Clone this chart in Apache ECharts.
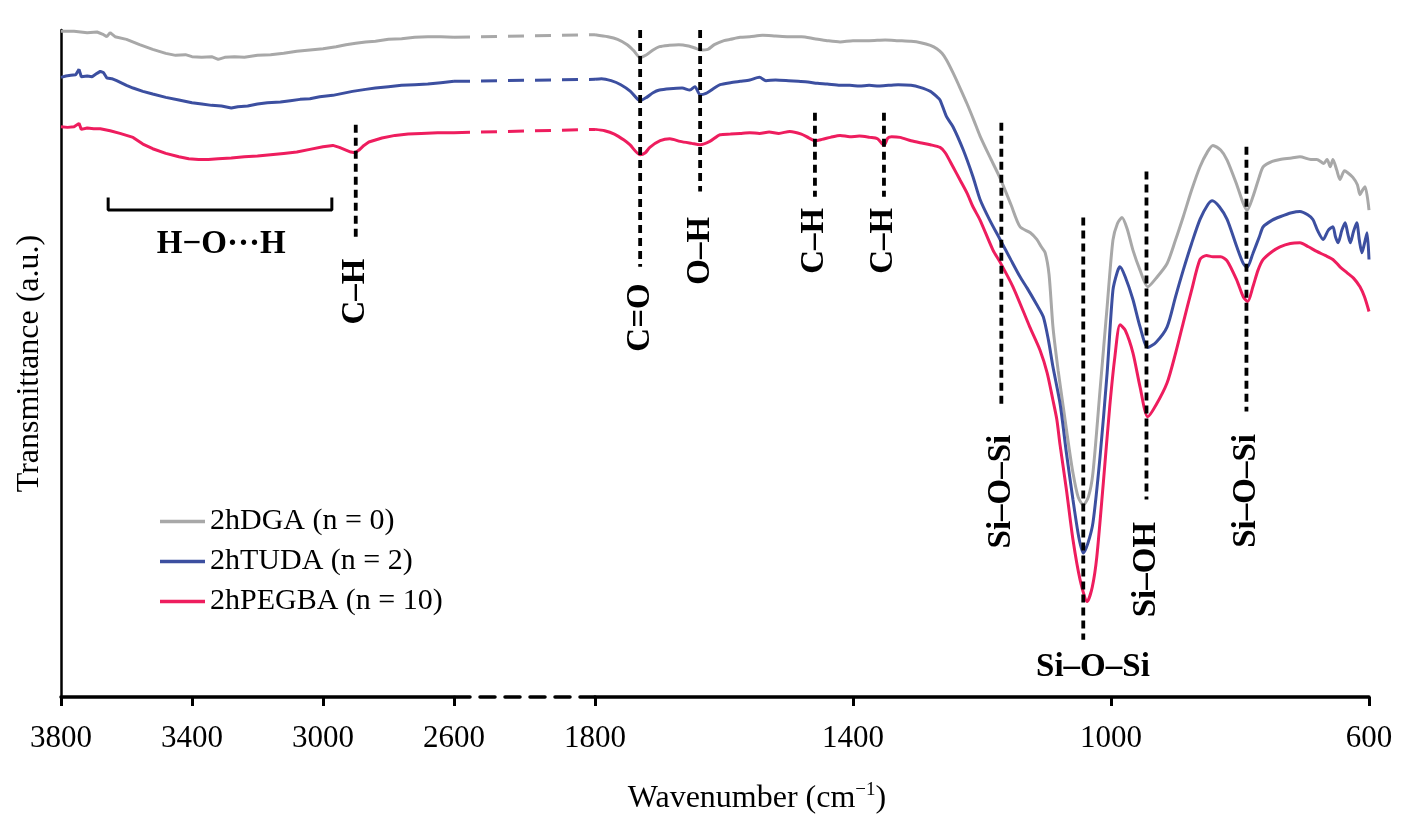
<!DOCTYPE html>
<html>
<head>
<meta charset="utf-8">
<title>FTIR</title>
<script src="https://cdn.jsdelivr.net/npm/echarts@6/dist/echarts.min.js"></script>
<style>
  html, body { margin: 0; padding: 0; background: #fff; }
  #chart { width: 1418px; height: 834px; }
</style>
</head>
<body>
<div id="chart"></div>
<script>
// series names
const names = ['2hDGA (n = 0)', '2hTUDA (n = 2)', '2hPEGBA (n = 10)'];
const colors = ['#a8a8a8', '#3c4fa0', '#ee1d5e'];

// [wavenumber, transmittance a.u.], 3800-2600 part
const grayLeft = [[3800,99.8],[3760,99.8],[3720,99.6],[3690,99.7],[3670,99.3],[3660,99.0],[3650,99.6],[3635,99.0],[3600,98.6],[3560,97.8],[3520,97.1],[3480,96.5],[3450,96.2],[3420,96.3],[3400,96.0],[3370,95.9],[3340,96.0],[3320,95.6],[3300,95.9],[3270,96.0],[3240,95.9],[3200,96.2],[3160,96.3],[3120,96.5],[3080,96.8],[3040,97.0],[3000,97.2],[2960,97.5],[2930,97.8],[2900,98.0],[2870,98.2],[2840,98.3],[2800,98.6],[2760,98.7],[2720,98.9],[2680,99.0],[2640,99.0],[2600,98.9]];
const blueLeft = [[3800,92.9],[3785,93.1],[3770,93.2],[3755,93.3],[3745,94.1],[3738,93.0],[3720,93.1],[3705,93.0],[3690,93.5],[3680,93.8],[3670,93.6],[3660,92.8],[3645,92.7],[3630,92.4],[3600,91.7],[3580,91.3],[3550,90.8],[3520,90.4],[3480,89.9],[3440,89.5],[3400,89.1],[3370,88.9],[3340,88.7],[3310,88.6],[3280,88.3],[3260,88.5],[3230,88.6],[3200,88.9],[3170,89.1],[3130,89.2],[3100,89.4],[3070,89.6],[3040,89.7],[3010,90.0],[2970,90.2],[2940,90.5],[2910,90.8],[2870,91.1],[2840,91.3],[2800,91.5],[2760,91.7],[2720,91.8],[2680,91.9],[2640,92.1],[2600,92.3]];
const redLeft = [[3800,85.5],[3780,85.4],[3760,85.5],[3745,86.0],[3738,85.1],[3720,85.3],[3700,85.2],[3680,85.2],[3650,84.9],[3620,84.5],[3580,83.9],[3550,82.9],[3520,82.2],[3480,81.5],[3440,81.0],[3410,80.7],[3380,80.6],[3350,80.6],[3320,80.7],[3280,80.8],[3240,81.0],[3200,81.1],[3160,81.3],[3120,81.5],[3080,81.7],[3040,82.1],[3000,82.5],[2970,82.7],[2950,82.4],[2930,82.0],[2915,81.7],[2902,81.6],[2890,82.0],[2875,82.7],[2860,83.2],[2820,83.8],[2780,84.2],[2740,84.4],[2700,84.5],[2650,84.6],[2600,84.6]];

// 1800-600 part
const grayRight = [[1800,99.3],[1780,99.0],[1765,98.6],[1750,97.8],[1740,96.9],[1730,95.9],[1720,96.3],[1710,97.0],[1700,97.5],[1685,97.7],[1670,97.8],[1655,97.6],[1645,97.3],[1637,97.0],[1625,97.1],[1615,97.8],[1600,98.4],[1590,98.6],[1575,98.9],[1560,99.0],[1540,99.2],[1520,99.1],[1500,99.0],[1480,99.0],[1460,98.7],[1440,98.4],[1420,98.2],[1400,98.4],[1375,98.4],[1350,98.5],[1330,98.4],[1310,98.3],[1295,98.1],[1280,97.7],[1270,97.2],[1262,96.5],[1255,95.5],[1245,93.6],[1234,91.3],[1223,88.9],[1212,86.3],[1203,84.1],[1188,81.0],[1172,77.8],[1155,73.8],[1141,70.5],[1125,69.6],[1115,68.6],[1108,67.5],[1102,66.6],[1096,63.3],[1090,55.5],[1082,49.0],[1074,43.5],[1066,38.0],[1059,33.6],[1051,30.0],[1043,28.8],[1035,30.0],[1028,33.6],[1017,46.0],[1006,58.5],[997,68.5],[990,71.0],[983,71.9],[975,70.2],[966,67.0],[955,64.0],[943,61.5],[930,62.8],[913,65.0],[900,68.5],[888,72.0],[875,76.0],[862,79.5],[850,81.8],[842,82.7],[830,82.0],[820,80.5],[805,76.8],[795,74.0],[789,73.0],[780,75.0],[770,78.0],[764,79.5],[750,80.3],[738,80.6],[720,80.8],[707,81.0],[690,80.6],[681,80.6],[670,80.0],[665,80.6],[660,79.5],[656,80.6],[650,79.0],[645,77.6],[638,78.9],[633,78.6],[625,77.9],[618,76.8],[614,75.3],[610,76.0],[606,76.5],[600,73.0]];
const blueRight = [[1800,92.6],[1790,92.7],[1775,92.4],[1760,91.8],[1745,90.8],[1730,89.4],[1720,89.9],[1710,90.6],[1700,91.0],[1684,91.2],[1665,91.3],[1653,91.0],[1645,91.5],[1637,90.3],[1628,90.5],[1615,91.3],[1606,91.8],[1590,92.1],[1575,92.3],[1560,92.5],[1545,92.9],[1535,92.4],[1520,92.5],[1500,92.4],[1485,92.3],[1470,92.2],[1455,92.0],[1440,91.9],[1420,91.7],[1405,91.7],[1390,91.6],[1375,91.7],[1360,91.6],[1345,91.7],[1330,91.8],[1310,91.7],[1296,91.4],[1280,90.8],[1270,90.0],[1265,89.5],[1255,87.0],[1245,85.5],[1229,82.0],[1214,78.0],[1203,74.6],[1188,71.5],[1172,68.6],[1155,65.5],[1141,63.0],[1130,61.3],[1115,58.8],[1105,57.0],[1097,53.5],[1090,49.5],[1079,44.0],[1069,36.5],[1059,29.6],[1050,24.0],[1043,21.6],[1036,23.0],[1028,26.1],[1017,36.0],[1006,48.6],[997,61.0],[990,63.8],[986,64.5],[978,63.0],[966,59.6],[955,55.5],[943,52.4],[930,53.2],[913,55.5],[900,60.0],[888,64.0],[875,68.0],[862,71.6],[850,73.8],[843,74.4],[832,73.5],[820,71.6],[805,67.5],[795,65.0],[789,64.4],[780,66.5],[770,69.0],[764,70.5],[750,71.5],[738,72.0],[720,72.6],[707,72.8],[695,72.3],[687,71.6],[680,70.0],[671,68.6],[663,70.0],[656,70.5],[652,69.0],[648,68.1],[642,70.0],[637,71.1],[633,69.5],[629,68.1],[624,69.8],[619,71.1],[615,68.5],[611,66.6],[607,68.0],[603,69.6],[600,65.6]];
const redRight = [[1800,85.1],[1785,84.9],[1770,84.4],[1755,83.5],[1746,82.8],[1730,81.3],[1722,81.6],[1715,82.4],[1699,83.4],[1684,83.7],[1668,83.3],[1650,83.0],[1637,82.8],[1622,83.3],[1606,84.3],[1590,84.4],[1575,84.5],[1560,84.6],[1545,84.5],[1530,84.7],[1515,84.5],[1498,84.8],[1480,84.4],[1468,83.8],[1459,83.4],[1448,83.6],[1435,83.9],[1420,84.2],[1405,84.0],[1390,84.1],[1374,83.9],[1362,83.7],[1352,82.7],[1346,83.8],[1340,84.0],[1327,83.9],[1310,83.4],[1296,83.1],[1280,82.8],[1265,82.4],[1257,81.6],[1245,79.5],[1234,77.5],[1223,75.5],[1214,73.5],[1203,71.5],[1183,67.0],[1172,65.2],[1152,61.5],[1126,55.5],[1110,52.0],[1099,48.6],[1090,44.5],[1084,41.6],[1079,37.8],[1069,31.0],[1059,23.6],[1048,17.6],[1037,14.3],[1029,16.5],[1022,21.0],[1012,32.0],[1002,43.5],[994,51.0],[986,55.8],[978,55.0],[966,51.6],[955,46.5],[943,42.0],[930,43.8],[913,47.1],[900,51.5],[888,56.1],[875,61.0],[862,65.6],[852,66.2],[842,66.0],[830,66.0],[820,65.4],[805,62.5],[795,60.0],[788,59.3],[780,61.5],[772,64.0],[764,65.6],[750,66.8],[738,67.5],[722,68.0],[707,68.1],[694,67.5],[681,66.8],[668,66.2],[656,65.6],[645,64.5],[634,63.6],[624,62.8],[614,61.5],[607,60.0],[600,57.8]];

// band assignments
const bandNames = ['C–H', 'C=O', 'O–H', 'C–H', 'C–H', 'Si–O–Si', 'Si–O–Si', 'Si–OH', 'Si–O–Si'];
const bandWn = [2900, 1730, 1637, 1459, 1352, 1170, 1043, 945, 790];

// tick labels
const leftTicks = [3800, 3400, 3000, 2600];
const rightTicks = [1800, 1400, 1000, 600];

// ---- layout (not data) ----
// dashed marker extents [top, bottom] and label centre, in axis units
const bandSpan = [[85.8, 68.5], [100, 64.5], [100, 75.8], [87.6, 75.0], [87.6, 75.0], [86.1, 43.4], [71.9, 8.6], [78.8, 29.6], [82.5, 42.8]];
const bandLabelAt = [[2900, 60.8], [1730, 56.9], [1637, 66.9], [1459, 68.4], [1352, 68.4], [1170, 30.8], [1028, 4.5], [945, 19.1], [790, 30.9]];
const serif = '"Liberation Serif", "Times New Roman", serif';

let myChart = echarts.init(document.getElementById('chart'), null, { renderer: 'canvas' });

let series = [];
const lefts = [grayLeft, blueLeft, redLeft];
const rights = [grayRight, blueRight, redRight];
names.forEach((n, i) => {
  let base = {
    name: n,
    type: 'line',
    symbol: 'none',
    silent: true,
    color: colors[i],
    lineStyle: { color: colors[i], width: 3 },
    z: 2
  };
  series.push(Object.assign({}, base, { xAxisIndex: 0, yAxisIndex: 0, data: lefts[i] }));
  // dashed bridge across the axis break
  series.push(Object.assign({}, base, {
    xAxisIndex: 1, yAxisIndex: 1,
    data: [lefts[i][lefts[i].length - 1], rights[i][0]],
    lineStyle: { color: colors[i], width: 3, type: [16, 11] }
  }));
  series.push(Object.assign({}, base, { xAxisIndex: 2, yAxisIndex: 2, data: rights[i], smooth: 0.25 }));
});

// dashed markers
bandWn.forEach((wn, i) => {
  let g = wn > 2000 ? 0 : 2;
  series.push({
    type: 'line', xAxisIndex: g, yAxisIndex: g, symbol: 'none', silent: true, z: 5,
    data: [[wn, bandSpan[i][0]], [wn, bandSpan[i][1]]],
    lineStyle: { color: '#000', width: 3.8, type: [8, 5] }
  });
});

// band labels
[0, 2].forEach(g => {
  let pts = [];
  bandWn.forEach((wn, i) => {
    if ((wn > 2000 ? 0 : 2) !== g) return;
    pts.push({
      name: bandNames[i],
      value: bandLabelAt[i],
      label: { rotate: i === 6 ? 0 : 90 }
    });
  });
  if (g === 0) pts.push({ name: 'H−O···H', value: [3311, 67.8], label: { rotate: 0 } });
  series.push({
    type: 'scatter', xAxisIndex: g, yAxisIndex: g, symbolSize: 0, silent: true, z: 6,
    itemStyle: { color: '#000' },
    data: pts,
    label: {
      show: true, position: 'inside', formatter: '{b}',
      fontFamily: serif, fontSize: 33, fontWeight: 'bold', color: '#000',
      textBorderWidth: 0, opacity: 1
    }
  });
});

// bracket for the broad O-H band
series.push({
  type: 'line', xAxisIndex: 0, yAxisIndex: 0, symbol: 'none', silent: true, z: 5,
  data: [[3656, 74.9], [3656, 73.0], [2973, 73.0], [2973, 74.9]],
  lineStyle: { color: '#000', width: 3 }
});

const axisText = { fontFamily: serif, fontSize: 31, color: '#000' };

function valueAxis(idx, min, max, ticks) {
  return {
    type: 'value', gridIndex: idx, min: min, max: max, interval: 400, inverse: true,
    axisLine: { show: true, onZero: false, lineStyle: { color: '#000', width: 3.5 } },
    axisTick: { show: true, length: 9, lineStyle: { color: '#000', width: 3 } },
    axisLabel: {
      show: true, margin: 26, ...axisText,
      formatter: v => (ticks.indexOf(v) > -1 ? String(v) : '')
    },
    splitLine: { show: false }
  };
}

let option = {
  animation: false,
  backgroundColor: '#fff',
  title: {
    text: 'Wavenumber (cm{sup|−1})',
    left: 752, top: 776, textAlign: 'center',
    textStyle: {
      fontFamily: serif, fontSize: 32, fontWeight: 'normal', color: '#000',
      rich: { sup: { fontFamily: serif, fontSize: 19, color: '#000', padding: [0, 0, 16, 0] } }
    }
  },
  legend: {
    data: names,
    orient: 'vertical', left: 160, top: 506,
    icon: 'rect', itemWidth: 45, itemHeight: 3.5, itemGap: 9, padding: 0,
    textStyle: { fontFamily: serif, fontSize: 30, color: '#000', lineHeight: 31 }
  },
  grid: [
    { left: 61, top: 30, width: 393, height: 667 },
    { left: 454, top: 30, width: 141, height: 667 },
    { left: 595, top: 30, width: 774, height: 667 }
  ],
  xAxis: [
    valueAxis(0, 2600, 3800, leftTicks),
    {
      type: 'value', gridIndex: 1, min: 1800, max: 2600, inverse: true,
      axisLine: { show: true, onZero: false, lineStyle: { color: '#000', width: 3.5, type: [15, 10] } },
      axisTick: { show: false }, axisLabel: { show: false }, splitLine: { show: false }
    },
    valueAxis(2, 600, 1800, rightTicks)
  ],
  yAxis: [
    {
      type: 'value', gridIndex: 0, min: 0, max: 100,
      name: 'Transmittance (a.u.)', nameLocation: 'middle', nameGap: 15,
      nameTextStyle: { fontFamily: serif, fontSize: 32, color: '#000' },
      axisLine: { show: true, lineStyle: { color: '#000', width: 2.5 } },
      axisTick: { show: false }, axisLabel: { show: false }, splitLine: { show: false }
    },
    { type: 'value', gridIndex: 1, min: 0, max: 100, show: false },
    { type: 'value', gridIndex: 2, min: 0, max: 100, show: false }
  ],
  series: series
};

myChart.setOption(option);
</script>
</body>
</html>
